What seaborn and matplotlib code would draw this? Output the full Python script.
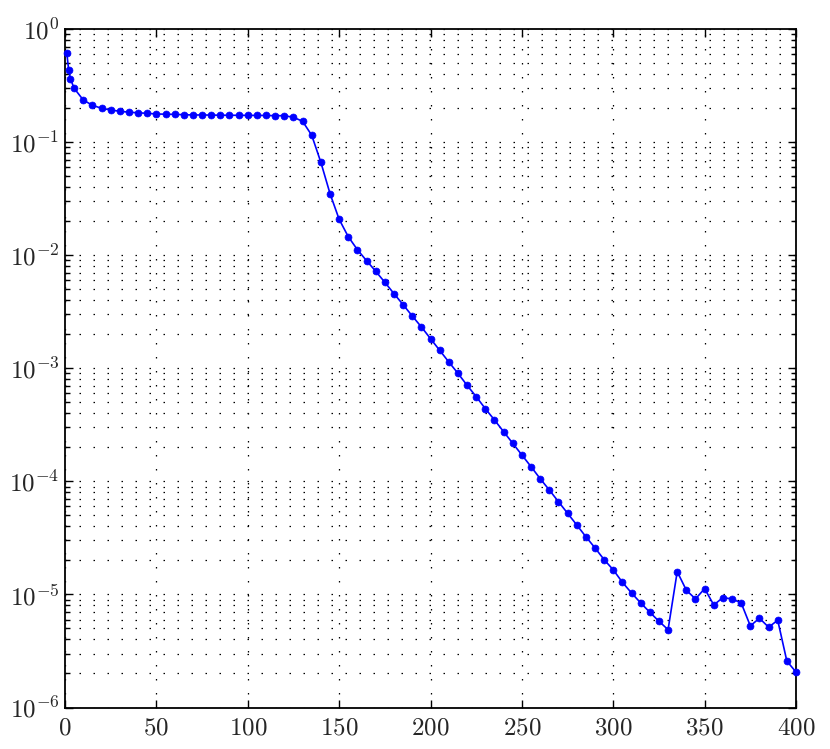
import numpy as np
import pandas as pd
import seaborn as sns
import matplotlib
matplotlib.use('Agg')
import matplotlib.pyplot as plt
import matplotlib.ticker as ticker

# iteration number and residual
iterations = [1, 2, 3, 5, 10, 15, 20, 25, 30, 35, 40, 45, 50, 55, 60, 65, 70, 75, 80, 85,
              90, 95, 100, 105, 110, 115, 120, 125, 130, 135, 140, 145, 150, 155, 160,
              165, 170, 175, 180, 185, 190, 195, 200, 205, 210, 215, 220, 225, 230, 235,
              240, 245, 250, 255, 260, 265, 270, 275, 280, 285, 290, 295, 300, 305, 310,
              315, 320, 325, 330, 335, 340, 345, 350, 355, 360, 365, 370, 375, 380, 385,
              390, 395, 400]
residual = [0.610, 0.434, 0.361, 0.299, 0.2356, 0.2115, 0.199, 0.1922, 0.1872, 0.1838,
            0.1815, 0.1797, 0.1772, 0.1765, 0.1758, 0.1747, 0.1737, 0.1737, 0.1733, 0.1729,
            0.1726, 0.1726, 0.1722, 0.1722, 0.1719, 0.1712, 0.1712, 0.1657, 0.1527, 0.1149,
            0.0663, 0.0351, 0.02077, 0.01457, 0.01118, 0.00894, 0.00721, 0.00576, 0.00457,
            0.00365, 0.0029, 0.00232, 0.001827, 0.001442, 0.001137, 9.03e-4, 7.07e-4,
            5.61e-4, 4.39e-4, 3.49e-4, 2.75e-4, 2.17e-4, 1.71e-4, 1.349e-4, 1.056e-4,
            8.39e-5, 6.61e-5, 5.22e-5, 4.12e-5, 3.24e-5, 2.58e-5, 2.03e-5, 1.65e-5,
            1.28e-5, 1.03e-5, 8.41e-6, 6.96e-6, 5.79e-6, 4.88e-6, 1.59e-5, 1.089e-5,
            9.12e-6, 1.125e-5, 8.07e-6, 9.37e-6, 9.12e-6, 8.41e-6, 5.27e-6, 6.16e-6,
            5.13e-6, 5.91e-6, 2.57e-6, 2.06e-6]

x_ticks = [0, 50, 100, 150, 200, 250, 300, 350, 400]
y_exponents = [-6, -5, -4, -3, -2, -1, 0]

df = pd.DataFrame({'iteration': iterations, 'residual': residual})

sns.set_style('ticks')
plt.rcParams['mathtext.fontset'] = 'cm'
plt.rcParams['font.family'] = ['DejaVu Sans']

fig = plt.figure(figsize=(8.3, 7.49), dpi=100)
ax = fig.add_axes([65 / 830, 1 - 707.5 / 749, (796 - 65) / 830, (707.5 - 29) / 749])

sns.lineplot(data=df, x='iteration', y='residual', ax=ax, color='#0000ff',
             linewidth=1.2, marker='o', markersize=5, markeredgecolor='#0000ff',
             markeredgewidth=0.5, clip_on=False, zorder=5)

ax.set_yscale('log')
ax.set_xlim(0, 400)
ax.set_ylim(1e-6, 1e0)

ax.set_xticks(x_ticks)
ax.xaxis.set_major_formatter(ticker.FuncFormatter(lambda v, p: r'$%d$' % v))
ax.set_yticks([10.0 ** e for e in y_exponents])
ax.yaxis.set_major_formatter(ticker.FuncFormatter(lambda v, p: r'$10^{%d}$' % round(np.log10(v))))
ax.yaxis.set_minor_locator(ticker.LogLocator(base=10, subs=np.arange(2, 10), numticks=20))
ax.yaxis.set_minor_formatter(ticker.NullFormatter())

# matlab style dotted grid and inward ticks on every side
dots = (0, (1.2, 10))
ax.grid(True, which='major', axis='both', color='black', linewidth=0.9, linestyle=dots)
ax.grid(True, which='minor', axis='y', color='black', linewidth=0.9, linestyle=dots)
ax.tick_params(which='both', direction='in', top=True, right=True, labelsize=18,
               width=1.0, color='black')
ax.tick_params(which='major', length=6)
ax.tick_params(which='minor', length=3.5)
ax.tick_params(axis='x', pad=6)
ax.tick_params(axis='y', pad=4)
for s in ax.spines.values():
    s.set_linewidth(1.3)
    s.set_color('black')
ax.set_xlabel('')
ax.set_ylabel('')

fig.savefig('out.png', dpi=100, facecolor='white')
